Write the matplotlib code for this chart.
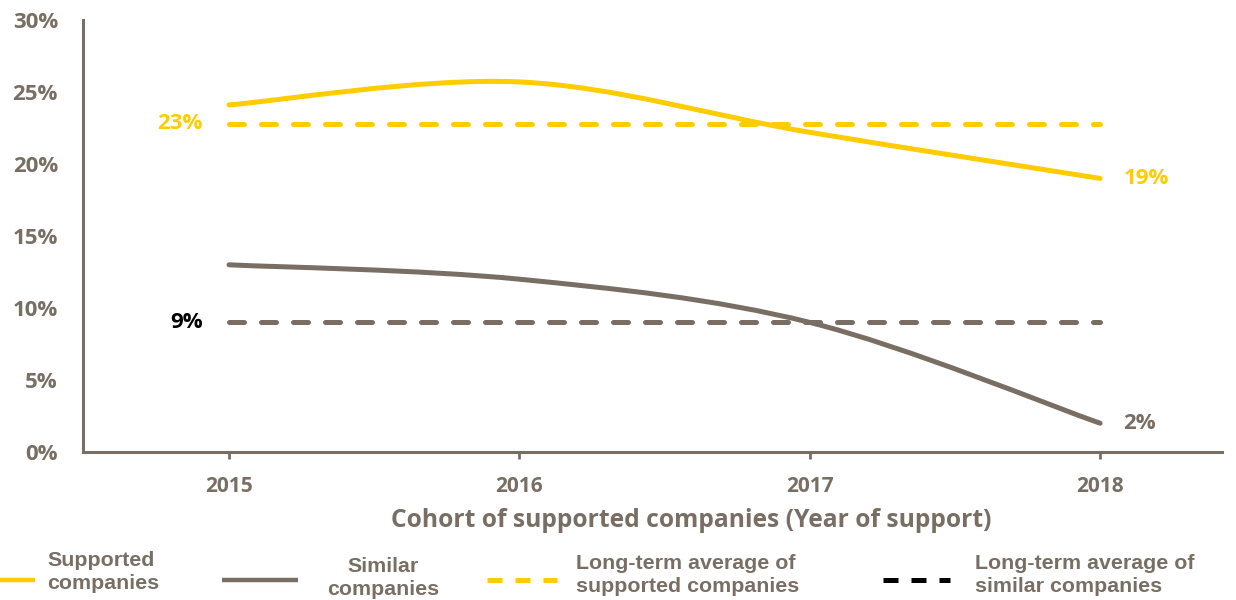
import matplotlib
matplotlib.use("Agg")
import matplotlib.pyplot as plt
from matplotlib.path import Path
from matplotlib.patches import PathPatch
from matplotlib.lines import Line2D
import numpy as np

years = ["2015", "2016", "2017", "2018"]
supported = [24.1, 25.7, 22.2, 19.0]
similar = [13.0, 12.0, 9.0, 2.0]
avg_supported = 22.8
avg_similar = 9.0
yticks = [0, 5, 10, 15, 20, 25, 30]

GRAY = "#786E64"
YELLOW = "#FFCC00"
BLACK = "#000000"
FONT = "Open Sans"


def smooth_path(xs, ys):
    # Excel-style smoothed line: cubic Bezier segments through the points
    pts = np.column_stack([xs, ys]).astype(float)
    ext = np.vstack([pts[0], pts, pts[-1]])
    verts = [tuple(pts[0])]
    codes = [Path.MOVETO]
    for i in range(len(pts) - 1):
        p0, p1, p2, p3 = ext[i], ext[i + 1], ext[i + 2], ext[i + 3]
        c1 = p1 + (p2 - p0) / 6.0
        c2 = p2 - (p3 - p1) / 6.0
        verts += [tuple(c1), tuple(c2), tuple(p2)]
        codes += [Path.CURVE4] * 3
    return Path(verts, codes)


fig = plt.figure(figsize=(12.36, 6), dpi=100)
ax = fig.add_axes([83 / 1236, 148 / 600, (1222 - 83) / 1236, 432 / 600])

x = np.arange(len(years))
for vals, col in [(supported, YELLOW), (similar, GRAY)]:
    ax.add_patch(PathPatch(smooth_path(x, vals), facecolor="none", edgecolor=col,
                           lw=3.6, capstyle="round", zorder=3))

ax.plot(x, [avg_supported] * len(x), color=YELLOW, lw=3.6, dashes=(3, 3.4),
        dash_capstyle="round", zorder=2)
ax.plot(x, [avg_similar] * len(x), color=GRAY, lw=3.6, dashes=(3, 3.4),
        dash_capstyle="round", zorder=2)

ax.set_xlim(-0.503, 3.42)
ax.set_ylim(0, 30)
ax.set_xticks(x)
ax.set_xticklabels(years)
ax.set_yticks(yticks)
ax.set_yticklabels([f"{v}%" for v in yticks])
for s in ["top", "right"]:
    ax.spines[s].set_visible(False)
for s in ["left", "bottom"]:
    ax.spines[s].set_color(GRAY)
    ax.spines[s].set_linewidth(2.2)
ax.tick_params(axis="y", length=0, pad=18, labelsize=16, labelcolor=GRAY)
ax.tick_params(axis="x", length=5, width=2, color=GRAY, pad=12, labelsize=15,
               labelcolor=GRAY)
for lab in ax.get_xticklabels() + ax.get_yticklabels():
    lab.set_fontweight("bold")
    lab.set_family(FONT)

ax.set_xlabel("Cohort of supported companies (Year of support)", fontsize=17.7,
              fontweight="bold", color=GRAY, family=FONT)
ax.xaxis.set_label_coords(0.534, -0.129)

lab_kw = dict(fontsize=16, fontweight="bold", family=FONT, va="center")
ax.text(-0.09, avg_supported, f"{avg_supported:.0f}%", color=YELLOW, ha="right", **lab_kw)
ax.text(-0.09, avg_similar, f"{avg_similar:.0f}%", color=BLACK, ha="right", **lab_kw)
ax.text(3.08, supported[-1], f"{supported[-1]:.0f}%", color=YELLOW, ha="left", **lab_kw)
ax.text(3.08, similar[-1], f"{similar[-1]:.0f}%", color=GRAY, ha="left", **lab_kw)

# legend drawn along the bottom
leg = [
    ((0, 35), YELLOW, None, "Supported\ncompanies", 47, "left", 572),
    ((222, 298), GRAY, None, "Similar\ncompanies", 383, "center", 578),
    ((487, 557), YELLOW, (3, 2.6), "Long-term average of\nsupported companies", 576, "left", 575),
    ((883, 950), BLACK, (3, 2.6), "Long-term average of\nsimilar companies", 975, "left", 575),
]
for (x0, x1), col, dash, txt, tx, ha, ty in leg:
    ln = Line2D([x0 / 1236, x1 / 1236], [1 - 580 / 600] * 2, transform=fig.transFigure,
                color=col, lw=3.6 if dash else 3.2, solid_capstyle="butt")
    if dash:
        ln.set_dashes(dash)
        ln.set_dash_capstyle("butt")
    fig.add_artist(ln)
    fig.text(tx / 1236, 1 - ty / 600, txt, ha=ha, va="center", fontsize=15.4,
             fontweight="bold", color=GRAY, family="Liberation Sans", linespacing=1.25)

fig.savefig("out.png", dpi=100)
